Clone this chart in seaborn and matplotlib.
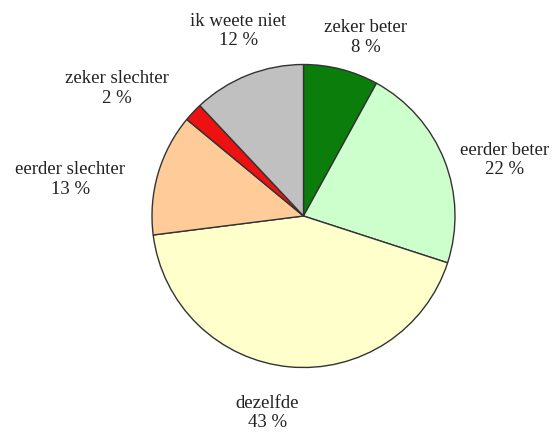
import matplotlib
matplotlib.use("Agg")
import matplotlib.pyplot as plt
import seaborn as sns

# answer categories and shares (%), clockwise from the top
categories = ["zeker beter", "eerder beter", "dezelfde",
              "eerder slechter", "zeker slechter", "ik weete niet"]
shares = [8, 22, 43, 13, 2, 12]
colors = ["#0a7d0a", "#ccffcc", "#ffffcc", "#ffcc99", "#ee1111", "#c0c0c0"]

# label anchor points, in pie radius units
label_pos = [(0.41, 1.18), (1.33, 0.37), (-0.24, -1.30),
             (-1.54, 0.24), (-1.23, 0.84), (-0.43, 1.22)]

sns.set_theme(style="white")
plt.rcParams["font.family"] = ["Liberation Serif", "DejaVu Serif"]

fig = plt.figure(figsize=(5.55, 4.32), dpi=100)
W, H = 555, 432
cx, cy, r = 303.5, 216, 151.5
ax = fig.add_axes([(cx - r) / W, (H - cy - r) / H, 2 * r / W, 2 * r / H])

wedges, _ = ax.pie(shares, colors=colors, startangle=90, counterclock=False,
                   wedgeprops=dict(edgecolor="#333333", linewidth=1.0))
ax.set_xlim(-1, 1)
ax.set_ylim(-1, 1)

for name, val, (x, y) in zip(categories, shares, label_pos):
    ax.text(x, y, f"{name}\n{val} %", ha="center", va="center",
            fontsize=13.5, color="#222222", linespacing=1.2, clip_on=False)

fig.savefig("out.png", dpi=100, facecolor="white")
